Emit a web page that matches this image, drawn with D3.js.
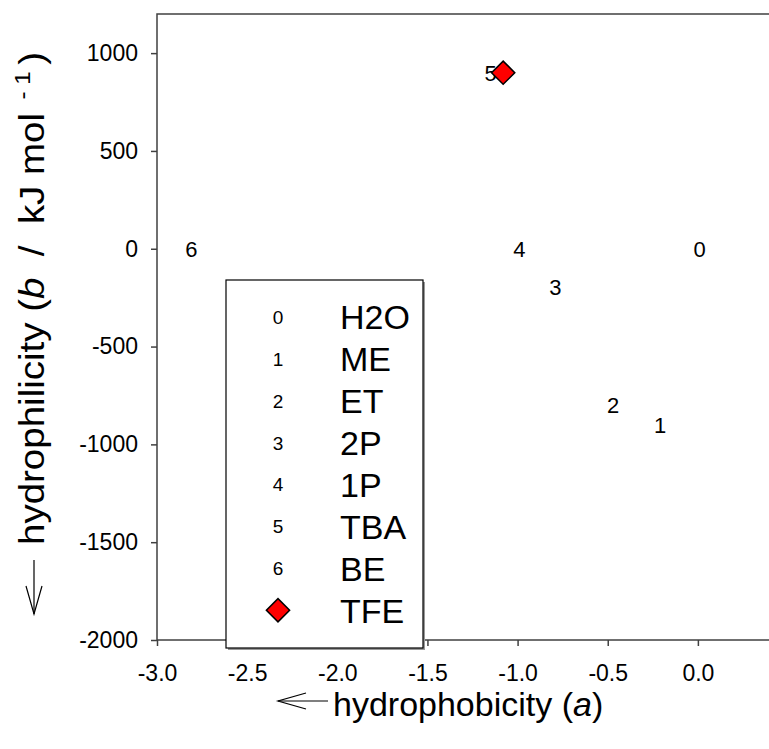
<!DOCTYPE html>
<html>
<head>
<meta charset="utf-8">
<script src="https://cdn.jsdelivr.net/npm/d3@7"></script>
<style>
  body { margin: 0; background: #fff; }
  svg { display: block; font-family: Arial, "Liberation Sans", sans-serif; }
  .axis path, .axis line { stroke: #404040; stroke-width: 1.5; }
  .axis text { font-size: 23px; fill: #000; }
</style>
</head>
<body>
<div id="chart"></div>
<script>
// solvents: code shown on the plot, name in legend, position (a, b)
var solventCodes = ["0", "1", "2", "3", "4", "5", "6"];
var solventNames = ["H2O", "ME", "ET", "2P", "1P", "TBA", "BE"];
var hydrophobicity = [0.01, -0.21, -0.47, -0.79, -0.99, -1.15, -2.81];
var hydrophilicity = [0, -900, -800, -195, 0, 900, 0];

// TFE is drawn as a red diamond
var tfeName = "TFE";
var tfeA = [-1.08];
var tfeB = [900];

var xTicks = [-3.0, -2.5, -2.0, -1.5, -1.0, -0.5, 0.0];
var yTicks = [-2000, -1500, -1000, -500, 0, 500, 1000];

var W = 769, H = 749;
var margin = {top: 14, left: 157},
    width = 613,
    height = 626;

var svg = d3.select("#chart").append("svg")
    .attr("width", W)
    .attr("height", H);

var x = d3.scaleLinear().domain([-3, 0.4]).range([margin.left, margin.left + width]);
var y = d3.scaleLinear().domain([-2000, 1200]).range([margin.top + height, margin.top]);

// plain hyphen minus, like the original
var hyphen = function(s) { return s.replace("\u2212", "-"); };

// frame (right side runs off the picture)
svg.append("rect")
    .attr("x", x(-3)).attr("y", y(1200))
    .attr("width", x(0.4) - x(-3)).attr("height", y(-2000) - y(1200))
    .attr("fill", "none").attr("stroke", "#404040").attr("stroke-width", 1.5);

svg.append("g")
    .attr("class", "axis")
    .attr("transform", "translate(0," + y(-2000) + ")")
    .call(d3.axisBottom(x).tickValues(xTicks)
        .tickFormat(function(d) { return hyphen(d3.format(".1f")(d)); })
        .tickSize(6).tickPadding(19).tickSizeOuter(0))
    .call(function(g) { g.select(".domain").remove(); });

svg.append("g")
    .attr("class", "axis")
    .attr("transform", "translate(" + x(-3) + ",0)")
    .call(d3.axisLeft(y).tickValues(yTicks)
        .tickFormat(function(d) { return String(d); })
        .tickSize(6).tickPadding(13).tickSizeOuter(0))
    .call(function(g) { g.select(".domain").remove(); });

svg.selectAll(".axis text").attr("font-family", "Arial, 'Liberation Sans', sans-serif");

// solvent codes as point labels
svg.selectAll("text.code")
    .data(solventCodes)
    .enter().append("text")
    .attr("class", "code")
    .attr("x", function(d, i) { return x(hydrophobicity[i]); })
    .attr("y", function(d, i) { return y(hydrophilicity[i]); })
    .attr("dy", "0.36em")
    .attr("text-anchor", "middle")
    .attr("font-size", 22)
    .text(function(d) { return d; });

var diamond = d3.symbol().type(d3.symbolSquare).size(270);

svg.selectAll("path.tfe")
    .data(tfeA)
    .enter().append("path")
    .attr("class", "tfe")
    .attr("transform", function(d, i) { return "translate(" + x(d) + "," + y(tfeB[i]) + ") rotate(45)"; })
    .attr("d", diamond)
    .attr("fill", "#ff0000").attr("stroke", "#000").attr("stroke-width", 1.5);

// legend
var lg = svg.append("g").attr("transform", "translate(226,280)");
lg.append("rect").attr("x", 2).attr("y", 2).attr("width", 197).attr("height", 368).attr("fill", "#999");
lg.append("rect").attr("width", 197).attr("height", 368)
    .attr("fill", "#fff").attr("stroke", "#000").attr("stroke-width", 1.2);

var legendNames = solventNames.concat([tfeName]);
var rowY = function(i) { return 37 + i * 41.9; };

lg.selectAll("text.lcode")
    .data(solventCodes)
    .enter().append("text")
    .attr("x", 52).attr("y", function(d, i) { return rowY(i); })
    .attr("dy", "0.36em").attr("text-anchor", "middle")
    .attr("font-size", 19)
    .text(function(d) { return d; });

lg.append("path")
    .attr("transform", "translate(52," + rowY(7) + ") rotate(45)")
    .attr("d", diamond)
    .attr("fill", "#ff0000").attr("stroke", "#000").attr("stroke-width", 1.5);

lg.selectAll("text.lname")
    .data(legendNames)
    .enter().append("text")
    .attr("x", 114).attr("y", function(d, i) { return rowY(i); })
    .attr("dy", "0.36em")
    .attr("font-size", 34)
    .text(function(d) { return d; });

// x title with arrow
var xt = svg.append("text")
    .attr("x", 333).attr("y", 716)
    .attr("font-size", 34);
xt.append("tspan").text("hydrophobicity (");
xt.append("tspan").attr("font-style", "italic").text("a");
xt.append("tspan").text(")");

var arrow = d3.line();
svg.append("path").attr("d", arrow([[278, 701], [328, 701]])).attr("stroke", "#000").attr("fill", "none").attr("stroke-width", 1.2);
svg.append("path").attr("d", arrow([[306, 693], [278, 701], [306, 709]])).attr("stroke", "#000").attr("fill", "none").attr("stroke-width", 1.2);

// y title with arrow
var yt = svg.append("text")
    .attr("transform", "translate(44,545) rotate(-90) scale(1.1,1)")
    .attr("font-size", 35);
yt.append("tspan").text("hydrophilicity (");
yt.append("tspan").attr("font-style", "italic").text("b");
yt.append("tspan").attr("xml:space", "preserve").text("  /  kJ mol");
yt.append("tspan").attr("font-size", 22).attr("dy", -14).attr("dx", 6).attr("xml:space", "preserve").text(" - 1");
yt.append("tspan").attr("dy", 14).attr("dx", 6).text(")");

svg.append("path").attr("d", arrow([[34, 560], [34, 614]])).attr("stroke", "#000").attr("fill", "none").attr("stroke-width", 1.2);
svg.append("path").attr("d", arrow([[26, 586], [34, 614], [42, 586]])).attr("stroke", "#000").attr("fill", "none").attr("stroke-width", 1.2);
</script>
</body>
</html>
